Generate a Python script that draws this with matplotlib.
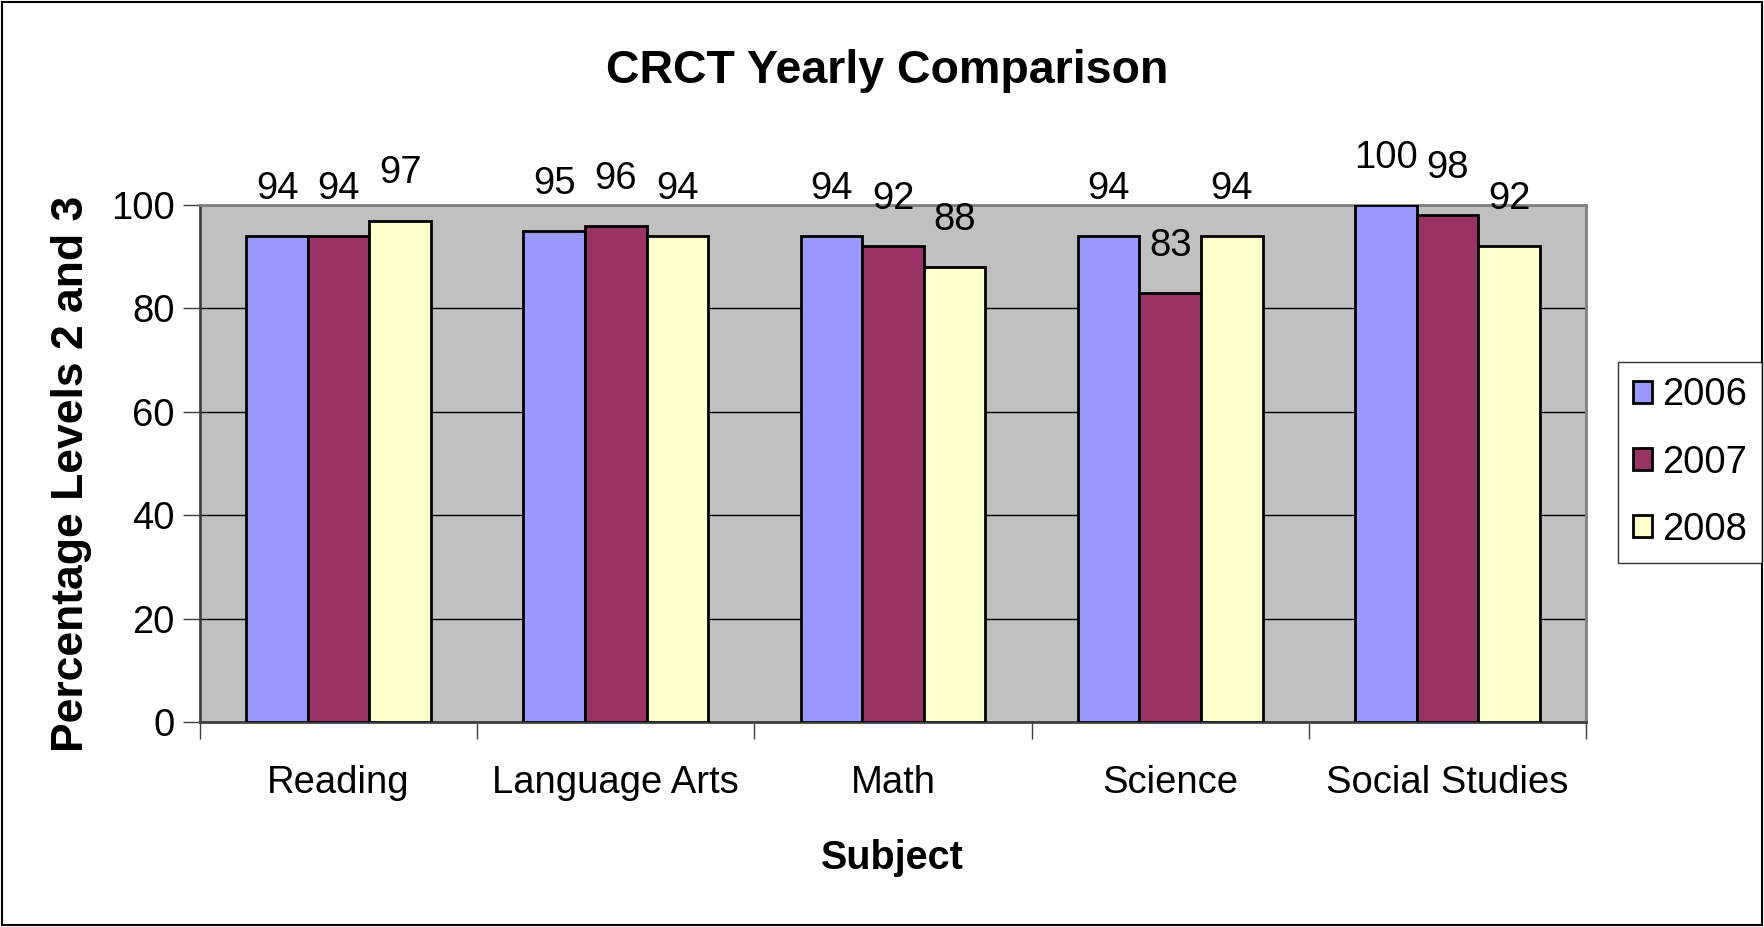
import matplotlib
matplotlib.use("Agg")
import matplotlib.pyplot as plt
import numpy as np
from matplotlib.patches import Rectangle

categories = ["Reading", "Language Arts", "Math", "Science", "Social Studies"]
years = ["2006", "2007", "2008"]
v2006 = [94, 95, 94, 94, 100]
v2007 = [94, 96, 92, 83, 98]
v2008 = [97, 94, 88, 94, 92]
colors = ["#9999FF", "#993366", "#FFFFCC"]

plt.rcParams['font.family'] = ['Liberation Sans', 'DejaVu Sans']

W, H = 1764, 927
fig = plt.figure(figsize=(W / 100, H / 100), dpi=100)
ax = fig.add_axes([200 / W, 1 - 722 / H, (1586 - 200) / W, (722 - 205) / H])
ax.set_facecolor("#C0C0C0")

FS = 27.5
x = np.arange(len(categories))
bw = 1 / 4.5
series = [v2006, v2007, v2008]
handles = []
for i, (vals, c, yr) in enumerate(zip(series, colors, years)):
    pos = x + (i - 1) * bw
    b = ax.bar(pos, vals, width=bw, color=c, edgecolor="black", linewidth=2, label=yr, zorder=3)
    handles.append(b)
    for p, v in zip(pos, vals):
        ax.annotate(str(v), (p, v), xytext=(0, 21), textcoords="offset points",
                    ha="center", va="bottom", fontsize=FS, annotation_clip=False)

ax.set_xlim(-0.5, len(categories) - 0.5)
ax.set_ylim(0, 100)
ax.set_yticks([0, 20, 40, 60, 80, 100])
ax.yaxis.grid(True, color="black", linewidth=1, zorder=1)
ax.set_axisbelow(True)
ax.tick_params(axis="y", labelsize=FS, length=12, width=1, color="#404040", pad=6)
ax.set_xticks(x)
ax.set_xticklabels(categories, fontsize=FS)
ax.tick_params(axis="x", length=0, pad=31)
ax.set_xticks(np.arange(-0.5, len(categories)), minor=True)
ax.tick_params(axis="x", which="minor", length=12, width=1, color="#404040")
for s in ax.spines.values():
    s.set_color("#808080")
    s.set_linewidth(2)
ax.spines["left"].set_color("#404040")
ax.spines["bottom"].set_color("#404040")

fig.text(72 / W, 1 - 474 / H, "Percentage Levels 2 and 3", fontsize=32, fontweight="bold",
         rotation=90, ha="center", va="center")
fig.text(892 / W, 1 - 858 / H, "Subject", fontsize=28.5, fontweight="bold", ha="center", va="center")
fig.text(887 / W, 1 - 71 / H, "CRCT Yearly Comparison", fontsize=33.5, fontweight="bold",
         ha="center", va="center")

leg = fig.legend(handles=handles, labels=years, loc="upper left",
                 bbox_to_anchor=(1618 / W, 1 - 362 / H), fontsize=FS, frameon=True,
                 fancybox=False, edgecolor="black", handlelength=0.5, handleheight=0.5,
                 handletextpad=0.25, labelspacing=0.82, borderpad=0.4, borderaxespad=0)
leg.get_frame().set_linewidth(1)

fig.patches.append(Rectangle((2 / W, 2 / H), 1 - 4 / W, 1 - 4 / H, transform=fig.transFigure,
                             fill=False, edgecolor="black", linewidth=1.5))
fig.savefig("out.png", dpi=100)
